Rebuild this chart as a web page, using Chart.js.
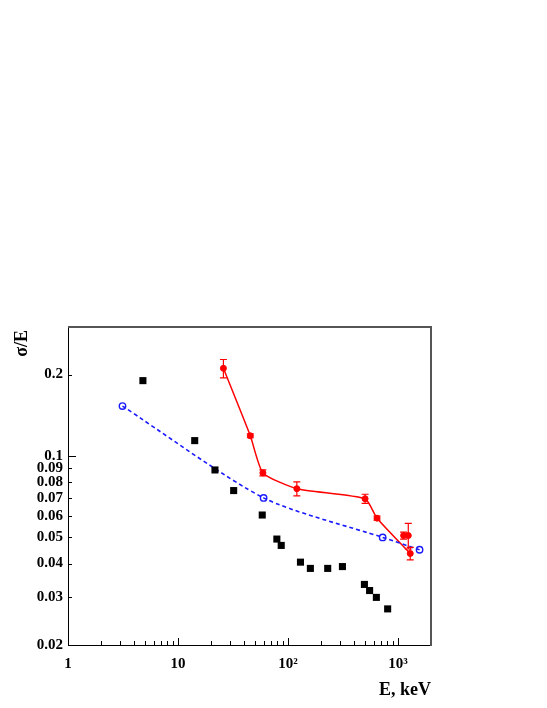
<!DOCTYPE html>
<html>
<head>
<meta charset="utf-8">
<script src="https://cdn.jsdelivr.net/npm/chart.js@4/dist/chart.umd.min.js"></script>
<style>
  body { margin: 0; background: #fff; }
  canvas { display: block; }
</style>
</head>
<body>
<canvas id="resChart" width="547" height="708"></canvas>
<script>
// energy (keV) and relative resolution sigma/E
const blackE   = [4.8, 14.2, 21.7, 32.1, 58.4, 79.3, 86.9, 130, 160, 230, 313, 496, 553, 637, 807];
const blackRes = [0.190, 0.114, 0.0888, 0.0745, 0.0605, 0.0493, 0.0467, 0.0405, 0.0384, 0.0384, 0.039, 0.0335, 0.0318, 0.030, 0.0272];

const blueE   = [3.13, 60.1, 727, 1574];
const blueRes = [0.153, 0.070, 0.050, 0.045];

const redE   = [25.9, 45.5, 59.2, 120.5, 503, 646, 1295];
const redRes = [0.211, 0.1188, 0.0866, 0.0757, 0.0695, 0.0589, 0.0436];
const redErr = [0.0165, 0.002, 0.0022, 0.0045, 0.0027, 0.001, 0.0023];

// two extra red points near 1 MeV, not on the line
const redExtraE   = [1127, 1243];
const redExtraRes = [0.0508, 0.0508];
const redExtraErr = [0.0015, 0.0055];

// axes
const xMin = 1, xMax = 2000;
const yMin = 0.02, yMax = 0.3;
const xMajor = [1, 10, 100, 1000];
const xMajorLabels = ['1', '10', '10\u00B2', '10\u00B3'];
const yLabeled = [0.02, 0.03, 0.04, 0.05, 0.06, 0.07, 0.08, 0.09, 0.1, 0.2];
const yLabels = ['0.02', '0.03', '0.04', '0.05', '0.06', '0.07', '0.08', '0.09', '0.1', '0.2'];
const yMajor = [0.1];

// tick positions (decade subdivisions)
const xTicks = [];
for (const d of [1, 10, 100, 1000]) {
    for (let k = 1; k <= 9; k++) {
        const v = d * k;
        if (v <= xMax) xTicks.push(v);
    }
}
const yTicks = [0.02, 0.03, 0.04, 0.05, 0.06, 0.07, 0.08, 0.09, 0.1, 0.2, 0.3];

const FONT = "'Liberation Serif', 'Times New Roman', serif";
Chart.defaults.font.family = FONT;
Chart.defaults.color = '#000';

const toXY = (xs, ys) => xs.map((x, i) => ({ x: x, y: ys[i] }));

// error bars, ticks inside the frame, frame and axis titles
const decorPlugin = {
    id: 'decor',
    afterDatasetsDraw(chart) {
        const ctx = chart.ctx;
        const xs = chart.scales.x, ys = chart.scales.y;
        ctx.save();
        ctx.strokeStyle = '#ff0000';
        ctx.lineWidth = 1.2;
        const bars = [[redE, redRes, redErr], [redExtraE, redExtraRes, redExtraErr]];
        bars.forEach(([ex, ey, ee]) => {
            ex.forEach((e, i) => {
                const px = xs.getPixelForValue(e);
                const top = ys.getPixelForValue(ey[i] + ee[i]);
                const bot = ys.getPixelForValue(ey[i] - ee[i]);
                ctx.beginPath();
                ctx.moveTo(px, top); ctx.lineTo(px, bot);
                ctx.moveTo(px - 3.5, top); ctx.lineTo(px + 3.5, top);
                ctx.moveTo(px - 3.5, bot); ctx.lineTo(px + 3.5, bot);
                ctx.stroke();
            });
        });
        ctx.restore();
    },
    afterDraw(chart) {
        const ctx = chart.ctx;
        const a = chart.chartArea;
        const xs = chart.scales.x, ys = chart.scales.y;
        ctx.save();
        // ticks
        ctx.strokeStyle = '#000';
        ctx.lineWidth = 1;
        ctx.beginPath();
        xTicks.forEach(v => {
            const px = Math.round(xs.getPixelForValue(v)) + 0.5;
            const len = xMajor.includes(v) ? 7 : 4;
            ctx.moveTo(px, a.bottom); ctx.lineTo(px, a.bottom - len);
        });
        yTicks.forEach(v => {
            const py = Math.round(ys.getPixelForValue(v)) + 0.5;
            const len = yMajor.includes(v) ? 8 : 4;
            ctx.moveTo(a.left, py); ctx.lineTo(a.left + len, py);
        });
        ctx.stroke();
        // frame: thin black left/bottom, heavier grey top/right
        ctx.beginPath();
        ctx.moveTo(a.left + 0.5, a.top);
        ctx.lineTo(a.left + 0.5, a.bottom + 0.5);
        ctx.lineTo(a.right, a.bottom + 0.5);
        ctx.stroke();
        ctx.strokeStyle = '#555';
        ctx.lineWidth = 2;
        ctx.beginPath();
        ctx.moveTo(a.left, a.top);
        ctx.lineTo(a.right, a.top);
        ctx.lineTo(a.right, a.bottom + 1);
        ctx.stroke();
        // axis titles
        ctx.fillStyle = '#000';
        ctx.font = 'bold 18px ' + FONT;
        ctx.textAlign = 'right';
        ctx.textBaseline = 'middle';
        ctx.fillText('E, keV', a.right, 690);
        ctx.translate(22, 330);
        ctx.rotate(-Math.PI / 2);
        ctx.fillText('\u03C3/E', 0, 0);
        ctx.restore();
    }
};

new Chart(document.getElementById('resChart'), {
    type: 'scatter',
    data: {
        datasets: [
            {
                label: 'black',
                data: toXY(blackE, blackRes),
                pointStyle: 'rect',
                pointRadius: 5,
                pointBackgroundColor: '#000',
                pointBorderWidth: 0,
                showLine: false
            },
            {
                label: 'blue',
                data: toXY(blueE, blueRes),
                showLine: true,
                borderColor: '#1a1aff',
                borderWidth: 1.6,
                borderDash: [4, 3],
                tension: 0.25,
                pointStyle: 'circle',
                pointRadius: 3.2,
                pointBorderWidth: 1.4,
                pointBorderColor: '#1a1aff',
                pointBackgroundColor: 'rgba(0,0,0,0)'
            },
            {
                label: 'red',
                data: toXY(redE, redRes),
                showLine: true,
                borderColor: '#ff0000',
                borderWidth: 1.5,
                tension: 0.18,
                pointStyle: 'circle',
                pointRadius: 3,
                pointBorderWidth: 1,
                pointBorderColor: '#ff0000',
                pointBackgroundColor: '#ff0000'
            },
            {
                label: 'red extra',
                data: toXY(redExtraE, redExtraRes),
                showLine: false,
                pointStyle: 'circle',
                pointRadius: 3,
                pointBorderWidth: 1,
                pointBorderColor: '#ff0000',
                pointBackgroundColor: '#ff0000'
            }
        ]
    },
    options: {
        responsive: false,
        animation: false,
        layout: { padding: { top: 327, right: 116, left: 0, bottom: 0 } },
        plugins: { legend: { display: false }, tooltip: { enabled: false } },
        scales: {
            x: {
                type: 'logarithmic',
                min: xMin,
                max: xMax,
                grid: { display: false, drawTicks: false },
                border: { display: false },
                afterBuildTicks: s => { s.ticks = xTicks.map(v => ({ value: v })); },
                afterFit: s => { s.height = 63; },
                ticks: {
                    autoSkip: false,
                    maxRotation: 0,
                    padding: 10,
                    font: { size: 15, weight: 'bold' },
                    callback: v => {
                        const i = xMajor.indexOf(v);
                        return i >= 0 ? xMajorLabels[i] : '';
                    }
                }
            },
            y: {
                type: 'logarithmic',
                min: yMin,
                max: yMax,
                grid: { display: false, drawTicks: false },
                border: { display: false },
                afterBuildTicks: s => { s.ticks = yTicks.map(v => ({ value: v })); },
                afterFit: s => { s.width = 68; },
                ticks: {
                    autoSkip: false,
                    padding: 5,
                    font: { size: 15, weight: 'bold' },
                    callback: v => {
                        const i = yLabeled.indexOf(v);
                        return i >= 0 ? yLabels[i] : '';
                    }
                }
            }
        }
    },
    plugins: [decorPlugin]
});
</script>
</body>
</html>
